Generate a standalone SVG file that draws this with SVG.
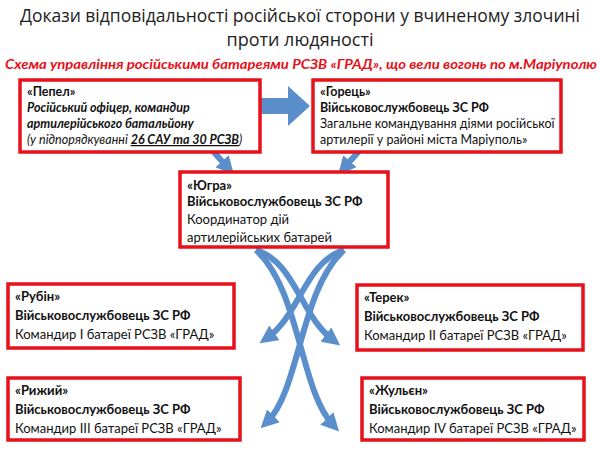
<svg xmlns="http://www.w3.org/2000/svg" width="600" height="450" viewBox="0 0 600 450">
<defs>
<style>
.b{fill:#fff;stroke:#e8101a;stroke-width:3.5}
text{font-family:Lato,"Open Sans",sans-serif;font-size:12.5px;fill:#111}
.h{font-weight:bold}
.i{font-style:italic;font-weight:bold}
.n{font-size:13px}
.c{fill:none;stroke:#5b8fcc;stroke-width:6;marker-end:url(#ah)}
</style>
<marker id="ah" markerWidth="3" markerHeight="3" refX="1.5" refY="1.5" orient="auto"><path d="M0,0L3,1.5L0,3z" fill="#5b8fcc"/></marker>
</defs>
<rect width="600" height="450" fill="#fff"/>
<text x="300" y="22" text-anchor="middle" textLength="560" lengthAdjust="spacingAndGlyphs" style="font-size:18px;font-family:'Open Sans',sans-serif;fill:#222">Докази відповідальності російської сторони у вчиненому злочині</text>
<text x="300" y="46" text-anchor="middle" style="font-size:18px;font-family:'Open Sans',sans-serif;fill:#222">проти людяності</text>
<text x="5" y="69" textLength="592" lengthAdjust="spacingAndGlyphs" style="fill:#e8101a;font-weight:bold;font-style:italic;font-size:13px">Схема управління російськими батареями РСЗВ «ГРАД», що вели вогонь по м.Маріуполю</text>
<g id="connectors">
<path d="M252,98H288V86L310,106L288,126V114H252z" fill="#5b8fcc"/>
<path d="M212,150L228,168" class="c"/>
<path d="M360,150L344,168" class="c"/>
<path d="M256,250C295,262 300,315 333,340" class="c"/>
<path d="M344,250C305,262 300,315 267,338" class="c"/>
<path d="M256,250C300,290 300,390 333,425" class="c"/>
<path d="M344,250C300,290 300,390 267,422" class="c"/>
</g>
<g id="pepel"><rect class="b" x="20" y="80" width="240" height="72"/>
<text x="27" y="96" class="h">«Пепел»</text>
<text x="27" y="112" class="i">Російський офіцер, командир</text>
<text x="27" y="128" class="i">артилерійського батальйону</text>
<text x="27" y="144" style="font-style:italic">(у підпорядкуванні <tspan class="i" text-decoration="underline">26 САУ та 30 РСЗВ</tspan>)</text></g>
<g id="horets"><rect class="b" x="313" y="80" width="248" height="72"/>
<text x="320" y="96" class="h">«Горець»</text>
<text x="320" y="112" class="h">Військовослужбовець ЗС РФ</text>
<text x="320" y="128">Загальне командування діями російської</text>
<text x="320" y="144">артилерії у районі міста Маріуполь»</text></g>
<g id="yugra"><rect class="b" x="180" y="172" width="208" height="75"/>
<text x="187" y="190" class="h n">«Югра»</text>
<text x="187" y="206" class="h n">Військовослужбовець ЗС РФ</text>
<text x="187" y="224" class="n">Координатор дій</text>
<text x="187" y="242" class="n">артилерійських батарей</text></g>
<g id="rubin"><rect class="b" x="8" y="284" width="226" height="64"/>
<text x="15" y="301" class="h n">«Рубін»</text>
<text x="15" y="320" class="h n">Військовослужбовець ЗС РФ</text>
<text x="15" y="339" class="n">Командир І батареї РСЗВ «ГРАД»</text></g>
<g id="terek"><rect class="b" x="357" y="285" width="226" height="65"/>
<text x="364" y="302" class="h n">«Терек»</text>
<text x="364" y="321" class="h n">Військовослужбовець ЗС РФ</text>
<text x="364" y="340" class="n">Командир ІІ батареї РСЗВ «ГРАД»</text></g>
<g id="ryzhy"><rect class="b" x="8" y="378" width="232" height="62"/>
<text x="15" y="395" class="h n">«Рижий»</text>
<text x="15" y="414" class="h n">Військовослужбовець ЗС РФ</text>
<text x="15" y="433" class="n">Командир ІІІ батареї РСЗВ «ГРАД»</text></g>
<g id="zhulien"><rect class="b" x="362" y="378" width="222" height="62"/>
<text x="369" y="395" class="h n">«Жульєн»</text>
<text x="369" y="414" class="h n">Військовослужбовець ЗС РФ</text>
<text x="369" y="433" class="n">Командир IV батареї РСЗВ «ГРАД»</text></g>
</svg>
